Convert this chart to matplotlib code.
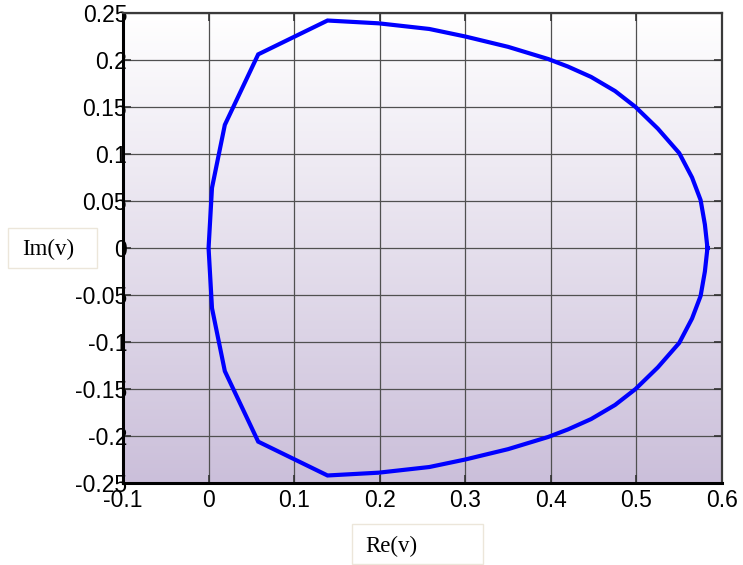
import numpy as np
import matplotlib
matplotlib.use("Agg")
import matplotlib.pyplot as plt
from matplotlib.ticker import FuncFormatter, MultipleLocator

# curve, starting at the right end and going counter-clockwise
re_v = [0.583, 0.580, 0.575, 0.565, 0.550, 0.525, 0.499, 0.475, 0.447, 0.420,
        0.397, 0.350, 0.300, 0.258, 0.199, 0.139, 0.058, 0.019, 0.004, 0.000,
        0.004, 0.019, 0.058, 0.139, 0.199, 0.258, 0.300, 0.350, 0.397, 0.420,
        0.447, 0.475, 0.499, 0.525, 0.550, 0.565, 0.575, 0.580, 0.583]
im_v = [0.000, 0.025, 0.051, 0.075, 0.101, 0.127, 0.150, 0.167, 0.182, 0.193,
        0.201, 0.214, 0.225, 0.233, 0.239, 0.242, 0.206, 0.131, 0.064, 0.000,
        -0.064, -0.131, -0.206, -0.242, -0.239, -0.233, -0.225, -0.214, -0.201, -0.193,
        -0.182, -0.167, -0.150, -0.127, -0.101, -0.075, -0.051, -0.025, 0.000]

x_range = (-0.1, 0.6)
y_range = (-0.25, 0.25)

plt.rcParams["axes.unicode_minus"] = False

fig = plt.figure(figsize=(7.43, 5.65), dpi=100)
ax = fig.add_axes([123 / 743, 1 - 483 / 565, (722 - 123) / 743, (483 - 13) / 565])

# background gradient, white at top to lavender at bottom
top = np.array([1.0, 1.0, 1.0])
bottom = np.array([203, 191, 218]) / 255
t = np.linspace(0, 1, 256)[:, None]
grad = top + (bottom - top) * t
ax.imshow(grad[:, None, :].repeat(2, axis=1), extent=[*x_range, *y_range],
          aspect="auto", zorder=0, origin="upper")

ax.plot(re_v, im_v, color="#0000ff", lw=3.0, zorder=3, solid_joinstyle="miter")

ax.set_xlim(*x_range)
ax.set_ylim(*y_range)
ax.xaxis.set_major_locator(MultipleLocator(0.1))
ax.yaxis.set_major_locator(MultipleLocator(0.05))
fmt = FuncFormatter(lambda v, p: "%g" % round(v, 3))
ax.xaxis.set_major_formatter(fmt)
ax.yaxis.set_major_formatter(fmt)

ax.grid(True, color="#505050", lw=0.9, zorder=1)
ax.set_axisbelow(False)
ax.tick_params(direction="in", length=6, width=1.2, color="#333333",
               top=True, right=True, labelsize=16.5)
ax.tick_params(axis="y", pad=-3)
ax.tick_params(axis="x", pad=4)
for lab in ax.get_xticklabels() + ax.get_yticklabels():
    lab.set_family("Liberation Sans")

for side in ("left", "bottom"):
    ax.spines[side].set_linewidth(2.2)
    ax.spines[side].set_color("black")
for side in ("top", "right"):
    ax.spines[side].set_linewidth(1.6)
    ax.spines[side].set_color("#3a3a3a")
for s in ax.spines.values():
    s.set_zorder(4)

# axis titles in little boxes
fig.patches.append(plt.Rectangle((8 / 743, 1 - 268 / 565), 89 / 743, 40 / 565,
                                 transform=fig.transFigure, fc="white", ec="#ece6da", lw=1))
fig.patches.append(plt.Rectangle((352 / 743, 1 - 564 / 565), 131 / 743, 40 / 565,
                                 transform=fig.transFigure, fc="white", ec="#ece6da", lw=1))
fig.text(22 / 743, 1 - 249 / 565, "Im(v)", family="Liberation Serif", fontsize=16.5,
         ha="left", va="center")
fig.text(365 / 743, 1 - 546 / 565, "Re(v)", family="Liberation Serif", fontsize=16.5,
         ha="left", va="center")

fig.savefig("out.png", dpi=100)
